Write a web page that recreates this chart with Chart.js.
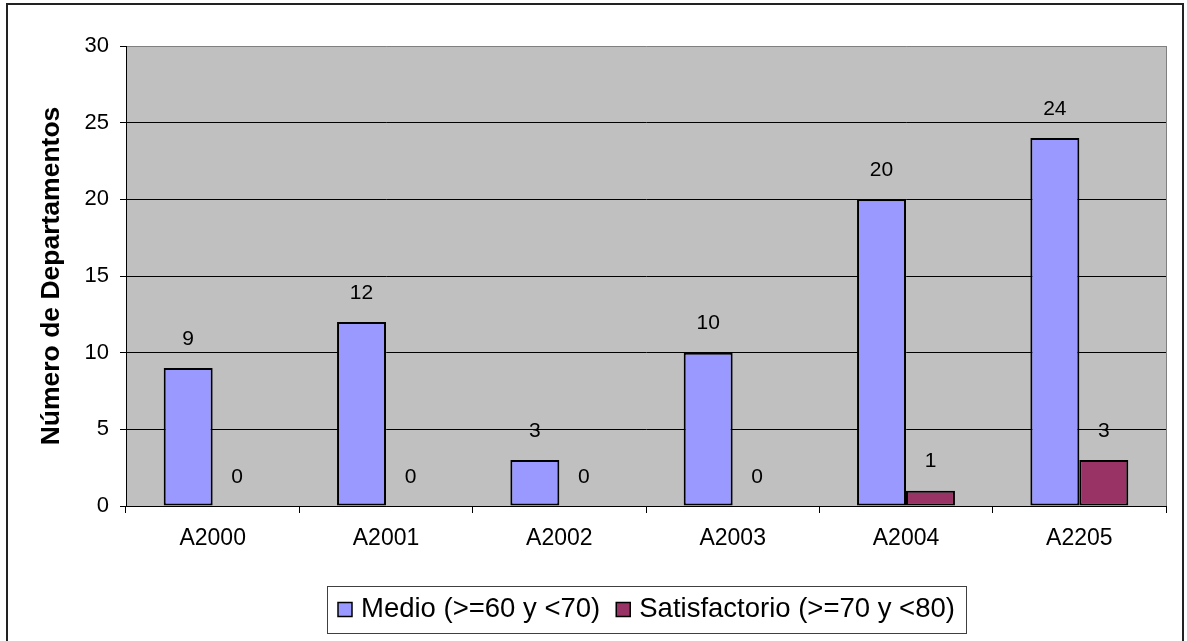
<!DOCTYPE html>
<html>
<head>
<meta charset="utf-8">
<script src="https://cdn.jsdelivr.net/npm/chart.js@4.4.1/dist/chart.umd.min.js"></script>
<style>
  html, body { margin: 0; padding: 0; background: #fff; }
  #wrap { width: 1187px; height: 641px; position: relative; }
</style>
</head>
<body>
<div id="wrap"><canvas id="chart" width="1187" height="641"></canvas></div>
<script>
// Departments per year, by performance level
const categories = ['A2000', 'A2001', 'A2002', 'A2003', 'A2004', 'A2205'];
const medio = [9, 12, 3, 10, 20, 24];
const satisfactorio = [0, 0, 0, 0, 1, 3];
const seriesNames = ['Medio (>=60 y <70)', 'Satisfactorio (>=70 y <80)'];
const yTicks = [0, 5, 10, 15, 20, 25, 30];
const yTitle = 'Número de Departamentos';

const FONT = '"Liberation Sans", Arial, Helvetica, sans-serif';
Chart.defaults.font.family = FONT;
Chart.defaults.color = '#000';

// grey plot background plus the grey right edge of the plot frame
const plotBackground = {
  id: 'plotBackground',
  beforeDraw(chart) {
    const { ctx, chartArea: a } = chart;
    ctx.save();
    ctx.fillStyle = '#C0C0C0';
    ctx.fillRect(a.left, a.top, a.right - a.left, a.bottom - a.top);
    ctx.restore();
  },
  afterDraw(chart) {
    const { ctx, chartArea: a } = chart;
    ctx.save();
    ctx.strokeStyle = '#808080';
    ctx.lineWidth = 1;
    ctx.beginPath();
    ctx.moveTo(Math.round(a.right) + 0.5, a.top);
    ctx.lineTo(Math.round(a.right) + 0.5, a.bottom);
    ctx.stroke();
    ctx.restore();
  }
};

// value written above every bar
const valueLabels = {
  id: 'valueLabels',
  afterDatasetsDraw(chart) {
    const ctx = chart.ctx;
    ctx.save();
    ctx.font = '21px ' + FONT;
    ctx.fillStyle = '#000';
    ctx.textAlign = 'center';
    ctx.textBaseline = 'middle';
    chart.data.datasets.forEach((ds, i) => {
      chart.getDatasetMeta(i).data.forEach((bar, j) => {
        ctx.fillText(String(ds.data[j]), bar.x, bar.y - 29);
      });
    });
    ctx.restore();
  }
};

// boxed legend centred under the plot, and the outer frame
const boxedLegend = {
  id: 'boxedLegend',
  afterDraw(chart) {
    const { ctx, chartArea: a } = chart;
    ctx.save();
    ctx.font = '27.5px ' + FONT;
    const sq = 14, gap = 9, between = 16, padX = 11;
    const items = chart.data.datasets.map(ds => ({
      label: ds.label, color: ds.backgroundColor, w: ctx.measureText(ds.label).width
    }));
    const total = padX * 2 + items.reduce((s, it) => s + sq + gap + it.w, 0) + between * (items.length - 1);
    const cx = (a.left + a.right) / 2;
    const left = Math.round(cx - total / 2);
    const top = 586, h = 47, mid = top + h / 2;

    ctx.strokeStyle = '#404040';
    ctx.lineWidth = 1;
    ctx.strokeRect(left + 0.5, top + 0.5, Math.round(total), h);

    let x = left + padX;
    ctx.textBaseline = 'middle';
    ctx.textAlign = 'left';
    items.forEach(it => {
      ctx.fillStyle = it.color;
      ctx.fillRect(x, mid - sq / 2, sq, sq);
      ctx.strokeStyle = '#000';
      ctx.lineWidth = 1.5;
      ctx.strokeRect(x, mid - sq / 2, sq, sq);
      ctx.fillStyle = '#000';
      ctx.fillText(it.label, x + sq + gap, mid);
      x += sq + gap + it.w + between;
    });

    ctx.strokeStyle = '#222';
    ctx.lineWidth = 2;
    ctx.strokeRect(7, 4, 1176, 700);
    ctx.restore();
  }
};

new Chart(document.getElementById('chart'), {
  type: 'bar',
  data: {
    labels: categories,
    datasets: [
      {
        label: seriesNames[0],
        data: medio,
        backgroundColor: '#9999FF',
        borderColor: '#000',
        borderWidth: c => (c.raw === 0 ? 0 : 2),
        borderSkipped: false
      },
      {
        label: seriesNames[1],
        data: satisfactorio,
        backgroundColor: '#993366',
        borderColor: '#000',
        borderWidth: c => (c.raw === 0 ? 0 : 2),
        borderSkipped: false
      }
    ]
  },
  options: {
    responsive: false,
    animation: false,
    layout: { padding: { top: 46, right: 21, bottom: 0, left: 0 } },
    datasets: { bar: { categoryPercentage: 0.565, barPercentage: 1 } },
    plugins: { legend: { display: false }, tooltip: { enabled: false } },
    scales: {
      x: {
        offset: true,
        grid: { offset: true, drawOnChartArea: false, tickLength: 7, color: '#000', tickColor: '#000' },
        border: { color: '#000', width: 1 },
        ticks: { font: { size: 23 }, padding: 12, color: '#000', maxRotation: 0 },
        afterFit(scale) { scale.height = 135; }
      },
      y: {
        min: yTicks[0],
        max: yTicks[yTicks.length - 1],
        afterBuildTicks(scale) { scale.ticks = yTicks.map(v => ({ value: v })); },
        grid: {
          color: c => (c.tick && c.tick.value === yTicks[yTicks.length - 1] ? '#808080' : '#000'),
          tickColor: '#000',
          tickLength: 6,
          lineWidth: 1
        },
        border: { color: '#000', width: 1 },
        ticks: { font: { size: 22 }, padding: 11, color: '#000' },
        title: {
          display: true,
          text: yTitle,
          font: { size: 26.5, weight: 'bold' },
          color: '#000',
          padding: { top: 36, bottom: 0 }
        },
        afterFit(scale) { scale.width = 126; }
      }
    }
  },
  plugins: [plotBackground, valueLabels, boxedLegend]
});
</script>
</body>
</html>
